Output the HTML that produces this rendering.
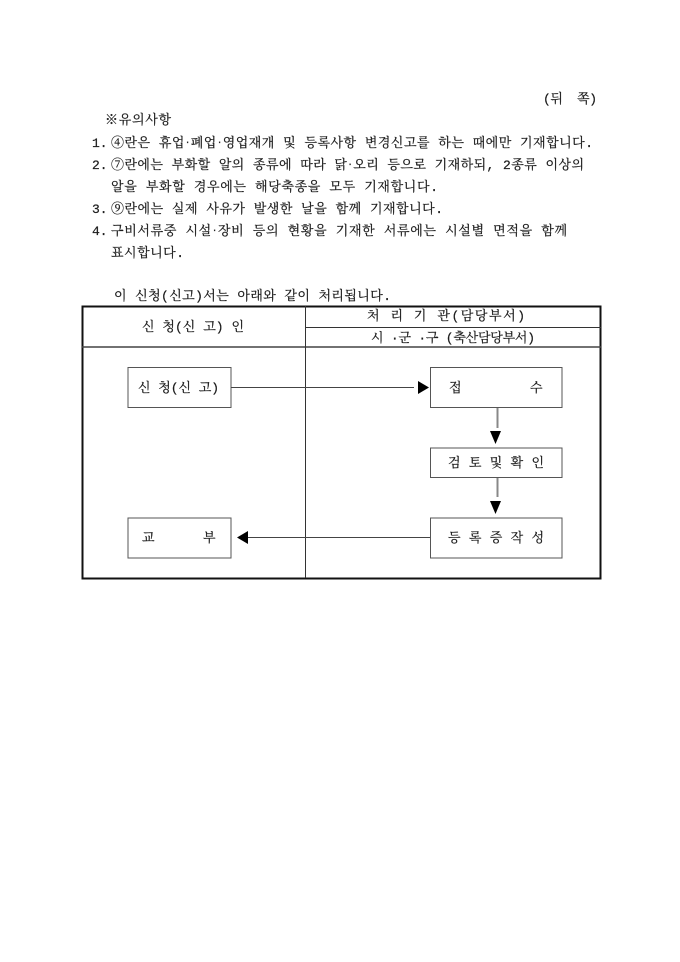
<!DOCTYPE html>
<html lang="ko">
<head>
<meta charset="utf-8">
<style>
html,body{margin:0;padding:0;background:#fff;width:680px;height:962px;overflow:hidden}
svg{display:block}
text{font-family:"Liberation Mono","Noto Serif CJK SC","Noto Sans CJK KR",monospace;font-size:13px;fill:#1c1c1c;stroke:#1c1c1c;stroke-width:.22px}
.d{font-size:9px;baseline-shift:2px}
</style>
</head>
<body>
<svg width="680" height="962" viewBox="0 0 680 962" xmlns="http://www.w3.org/2000/svg">
<text x="543" y="103" textLength="54" lengthAdjust="spacing" xml:space="preserve">(뒤  쪽)</text>
<text x="105" y="124" textLength="66" lengthAdjust="spacing">※유의사항</text>
<text x="92" y="147">1.</text>
<text x="111" y="147" textLength="482" lengthAdjust="spacing">④란은 휴업<tspan class="d">·</tspan>폐업<tspan class="d">·</tspan>영업재개 및 등록사항 변경신고를 하는 때에만 기재합니다.</text>
<text x="92" y="169">2.</text>
<text x="111" y="169" textLength="473" lengthAdjust="spacing">⑦란에는 부화할 알의 종류에 따라 닭<tspan class="d">·</tspan>오리 등으로 기재하되, 2종류 이상의</text>
<text x="111" y="191" textLength="327" lengthAdjust="spacing">알을 부화할 경우에는 해당축종을 모두 기재합니다.</text>
<text x="92" y="213">3.</text>
<text x="111" y="213" textLength="332" lengthAdjust="spacing">⑨란에는 실제 사유가 발생한 날을 함께 기재합니다.</text>
<text x="92" y="235">4.</text>
<text x="111" y="235" textLength="456" lengthAdjust="spacing">구비서류중 시설<tspan class="d">·</tspan>장비 등의 현황을 기재한 서류에는 시설별 면적을 함께</text>
<text x="111" y="257" textLength="73" lengthAdjust="spacing">표시합니다.</text>
<text x="114" y="300" textLength="277" lengthAdjust="spacing">이 신청(신고)서는 아래와 같이 처리됩니다.</text>

<rect x="82.5" y="306.5" width="518" height="272" fill="none" stroke="#111" stroke-width="2"/>
<line x1="82" y1="347" x2="601" y2="347" stroke="#444" stroke-width="1.5"/>
<line x1="306" y1="327.5" x2="601" y2="327.5" stroke="#333" stroke-width="1"/>
<line x1="305.5" y1="306" x2="305.5" y2="578" stroke="#333" stroke-width="1"/>

<text x="142" y="331" textLength="102" lengthAdjust="spacing">신 청(신 고) 인</text>
<text x="367" y="320" textLength="158" lengthAdjust="spacing">처 리 기 관(담당부서)</text>
<text x="371" y="342" textLength="164" lengthAdjust="spacing" xml:space="preserve">시 ·군 ·구 (축산담당부서)</text>

<g fill="#fff" stroke="#555" stroke-width="1">
<rect x="128" y="367.5" width="103" height="40"/>
<rect x="430.5" y="367.5" width="131.5" height="40"/>
<rect x="430.5" y="448" width="131.5" height="29.5"/>
<rect x="430.5" y="518" width="131.5" height="40"/>
<rect x="128" y="518" width="103" height="40"/>
</g>

<text x="138" y="392" textLength="81" lengthAdjust="spacing">신 청(신 고)</text>
<text x="449" y="392">접</text>
<text x="530" y="392">수</text>
<text x="448" y="467" textLength="96" lengthAdjust="spacing">검 토 및 확 인</text>
<text x="448" y="542" textLength="96" lengthAdjust="spacing">등 록 증 작 성</text>
<text x="142" y="542">교</text>
<text x="203" y="542">부</text>

<line x1="231" y1="387.5" x2="414" y2="387.5" stroke="#444" stroke-width="1"/>
<polygon points="418,381 429,387.5 418,394" fill="#000"/>
<line x1="497.5" y1="408" x2="497.5" y2="428" stroke="#888" stroke-width="2"/>
<polygon points="490,431 501,431 495.5,444" fill="#000"/>
<line x1="497.5" y1="478" x2="497.5" y2="497" stroke="#888" stroke-width="2"/>
<polygon points="490,501 501,501 495.5,514" fill="#000"/>
<line x1="248" y1="537.5" x2="430" y2="537.5" stroke="#444" stroke-width="1"/>
<polygon points="248,531 237,537.5 248,544" fill="#000"/>
</svg>
</body>
</html>
